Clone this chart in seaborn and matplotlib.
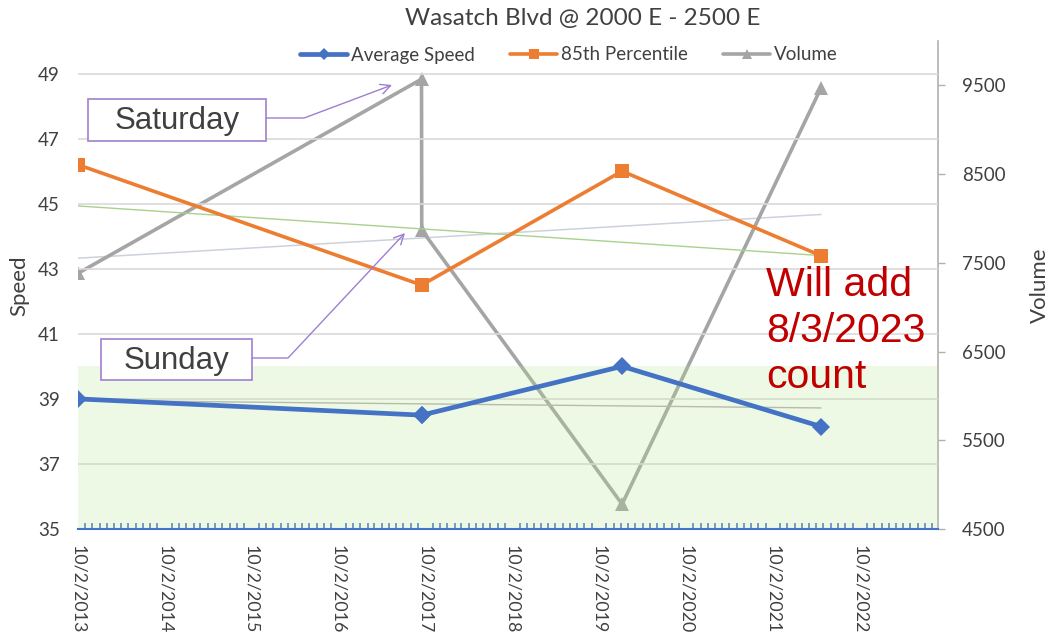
import numpy as np
import pandas as pd
import matplotlib
matplotlib.use("Agg")
import matplotlib.pyplot as plt
import matplotlib.dates as mdates
from matplotlib.lines import Line2D
from matplotlib.patches import Rectangle, FancyArrowPatch
import seaborn as sns

# ---------------- data ----------------
dates = ["2013-10-02", "2017-09-16", "2017-09-17", "2020-01-07", "2022-04-22"]
day_labels = ["", "Saturday", "Sunday", "", ""]
avg_speed = [39.0, 38.5, 38.5, 40.0, 38.15]
pct85 = [46.2, 42.5, 42.5, 46.0, 43.4]
volume = [7380, 9570, 7870, 4780, 9470]

title = "Wasatch Blvd @ 2000 E - 2500 E"
speed_ticks = [35, 37, 39, 41, 43, 45, 47, 49]
volume_ticks = [4500, 5500, 6500, 7500, 8500, 9500]
target_band = (35, 40)
note = "Will add\n8/3/2023\ncount"

df = pd.DataFrame({"date": pd.to_datetime(dates), "avg": avg_speed,
                   "p85": pct85, "vol": volume})
df["dnum"] = mdates.date2num(df["date"])

BLUE = "#4472C4"
ORANGE = "#ED7D31"
GRAY = "#A5A5A5"
PURPLE = "#9F7FD0"
TXT = "#404040"

sns.set_theme(style="white")
plt.rcParams["font.family"] = ["Lato", "DejaVu Sans"]

W, H = 1057, 635
fig = plt.figure(figsize=(W / 100, H / 100), dpi=100)
ax = fig.add_axes([77.7 / W, 1 - 529 / H, (938.3 - 77.7) / W, (529 - 41) / H])
ax2 = ax.twinx()
ax.set_zorder(ax2.get_zorder() + 1)
ax.patch.set_visible(False)

def fx(x):
    return x / W

def fy(y):
    return 1 - y / H

# volume on secondary axis (below)
sns.lineplot(data=df, x="dnum", y="vol", ax=ax2, color=GRAY, lw=2.6,
             marker="^", markersize=10, markeredgewidth=0, estimator=None,
             sort=False, legend=False, zorder=3)
sns.regplot(data=df, x="dnum", y="vol", ax=ax2, scatter=False, ci=None,
            line_kws=dict(color="#CBD2DC", lw=1.1, zorder=2))

# primary axis
ax.axhspan(*target_band, color="#B6E88D", alpha=0.22, lw=0, zorder=1)
sns.regplot(data=df, x="dnum", y="p85", ax=ax, scatter=False, ci=None,
            line_kws=dict(color="#A9D18E", lw=1.0, zorder=2))
sns.regplot(data=df, x="dnum", y="avg", ax=ax, scatter=False, ci=None,
            line_kws=dict(color="#B4BCAA", lw=1.0, zorder=2))
sns.lineplot(data=df, x="dnum", y="p85", ax=ax, color=ORANGE, lw=2.6,
             marker="s", markersize=9.5, markeredgewidth=0, estimator=None,
             sort=False, legend=False, zorder=4)
sns.lineplot(data=df, x="dnum", y="avg", ax=ax, color=BLUE, lw=3.4,
             marker="D", markersize=9, markeredgewidth=0, estimator=None,
             sort=False, legend=False, zorder=5)

# axes limits / ticks
xmin = mdates.date2num(pd.Timestamp("2013-10-02"))
xmax = mdates.date2num(pd.Timestamp("2023-08-28"))
ax.set_xlim(xmin, xmax)
ax.set_ylim(35, 50)
ax2.set_ylim(4500, 10000)
ax.set_yticks(speed_ticks)
ax2.set_yticks(volume_ticks)
ax.xaxis.set_major_locator(mdates.YearLocator(base=1, month=10, day=2))
ax.xaxis.set_major_formatter(mdates.DateFormatter("%-m/%-d/%Y"))
ax.xaxis.set_minor_locator(mdates.MonthLocator(bymonthday=2))

ax.grid(axis="y", color="#D9D9D9", lw=1.2)
ax.set_axisbelow(True)
ax.set_xlabel("")
ax.set_ylabel("")
ax2.set_xlabel("")
ax2.set_ylabel("")

for s in ["top", "left", "right"]:
    ax.spines[s].set_visible(False)
for s in ["top", "left", "bottom"]:
    ax2.spines[s].set_visible(False)
ax.spines["bottom"].set_color(BLUE)
ax.spines["bottom"].set_linewidth(1.5)
ax2.spines["right"].set_color("#B0B0B0")
ax2.spines["right"].set_linewidth(1.2)

ax.tick_params(axis="y", length=0, pad=13, labelsize=13.5, labelcolor=TXT)
ax.tick_params(axis="x", which="major", direction="inout", length=9,
               width=1.5, color=BLUE, pad=7, labelsize=12.8, labelcolor=TXT,
               labelrotation=-90)
ax.tick_params(axis="x", which="minor", direction="in", length=4,
               width=1.2, color=BLUE, bottom=True)
for lab in ax.get_xticklabels():
    lab.set_verticalalignment("top")
    lab.set_horizontalalignment("center")
ax2.tick_params(axis="y", right=True, length=5, width=1.0, color="#B0B0B0",
                pad=12, labelsize=13.5, labelcolor=TXT)

# titles / labels
fig.text(fx(583), fy(18), title, ha="center", va="center", fontsize=17.5,
         color=TXT)
fig.text(fx(19), fy(285.5), "Speed", rotation=90, ha="center", va="center",
         fontsize=16, color=TXT)
fig.text(fx(1040), fy(285), "Volume", rotation=90, ha="center", va="center",
         fontsize=16, color=TXT)

# legend
handles = [
    Line2D([], [], color=BLUE, lw=3.4, marker="D", markersize=6.5, mew=0),
    Line2D([], [], color=ORANGE, lw=2.6, marker="s", markersize=7, mew=0),
    Line2D([], [], color=GRAY, lw=2.6, marker="^", markersize=7, mew=0),
]
fig.legend(handles, ["Average Speed", "85th Percentile", "Volume"],
           loc="center", bbox_to_anchor=(fx(569), fy(55)), ncol=3,
           frameon=False, fontsize=13.5, handlelength=2.5, handletextpad=0.2,
           columnspacing=1.9, labelcolor=TXT)

# day annotations
def day_box(label, x0, y0, x1, y1, ay, knee_angle, tip):
    fig.add_artist(Rectangle((fx(x0), fy(y1)), fx(x1 - x0), (y1 - y0) / H,
                             transform=fig.transFigure, facecolor="white",
                             edgecolor=PURPLE, lw=1.2, zorder=10))
    fig.text(fx((x0 + x1) / 2), fy((y0 + y1) / 2 + 1), label, ha="center",
             va="center", fontsize=22.5, color=TXT, zorder=11,
             family=["Liberation Sans", "DejaVu Sans"])
    fig.add_artist(FancyArrowPatch(
        (fx(x1), fy(ay)), (fx(tip[0]), fy(tip[1])),
        transform=fig.transFigure, arrowstyle="->", mutation_scale=18,
        connectionstyle=f"angle,angleA=0,angleB={knee_angle},rad=0",
        color=PURPLE, lw=1.0, shrinkA=0, shrinkB=0, zorder=10))

day_box(day_labels[1], 88, 99, 266, 141, 118, 20.6, (392, 85))
day_box(day_labels[2], 101, 339, 252, 380, 358, 46.9, (405, 233))

# note
fig.text(fx(766), fy(266), note, ha="left", va="top", fontsize=29.5,
         color="#C00000", linespacing=1.27,
         family=["Liberation Sans", "DejaVu Sans"], zorder=12)

fig.savefig("out.png", dpi=100)
